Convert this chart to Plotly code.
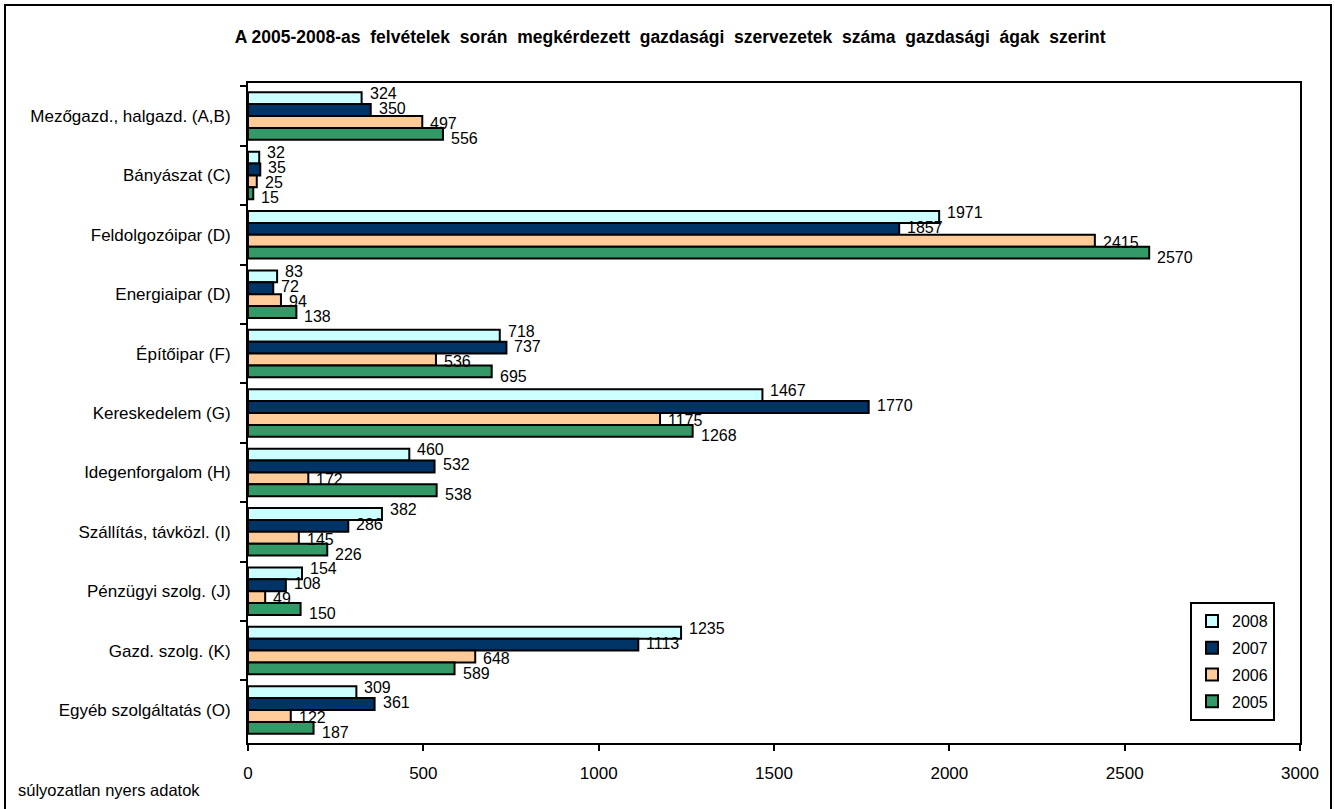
import plotly.graph_objects as go

categories = [
    "Mezőgazd., halgazd. (A,B)",
    "Bányászat (C)",
    "Feldolgozóipar (D)",
    "Energiaipar (D)",
    "Építőipar (F)",
    "Kereskedelem (G)",
    "Idegenforgalom (H)",
    "Szállítás, távközl. (I)",
    "Pénzügyi szolg. (J)",
    "Gazd. szolg. (K)",
    "Egyéb szolgáltatás (O)",
]
series_names = ["2008", "2007", "2006", "2005"]
v2008 = [324, 32, 1971, 83, 718, 1467, 460, 382, 154, 1235, 309]
v2007 = [350, 35, 1857, 72, 737, 1770, 532, 286, 108, 1113, 361]
v2006 = [497, 25, 2415, 94, 536, 1175, 172, 145, 49, 648, 122]
v2005 = [556, 15, 2570, 138, 695, 1268, 538, 226, 150, 589, 187]
x_ticks = [0, 500, 1000, 1500, 2000, 2500, 3000]

colors = ["#CCFFFF", "#003366", "#FFCC99", "#339966"]
FONT = "Arial, Liberation Sans, sans-serif"

W, H = 1335, 809
ml, mr, mt, mb = 248, 35, 83, 66
pw, ph = W - ml - mr, H - mt - mb

def px_x(p):
    return (p - ml) / pw

def px_y(p):
    return (H - mb - p) / ph

all_series = [v2008, v2007, v2006, v2005]
n_ser = len(all_series)
label_step = 15  # vertical spacing of value labels inside a category (px)

fig = go.Figure()
for name, vals, col in zip(series_names, all_series, colors):
    fig.add_trace(go.Bar(
        y=categories, x=vals, name=name, orientation="h",
        marker=dict(color=col, line=dict(color="black", width=2)),
        hoverinfo="x+y+name", legendgroup=name,
    ))

# value labels, anchored to each bar's end via the data axes, spread vertically
for si, vals in enumerate(all_series):
    yshift = -(si - (n_ser - 1) / 2) * label_step
    for cat, v in zip(categories, vals):
        fig.add_annotation(
            x=v, y=cat, xref="x", yref="y", text=str(v), showarrow=False,
            xanchor="left", yanchor="middle", xshift=6, yshift=yshift,
            font=dict(family=FONT, size=16, color="black"),
        )

fig.update_layout(
    width=W, height=H,
    margin=dict(l=ml, r=mr, t=mt, b=mb, autoexpand=False),
    paper_bgcolor="white", plot_bgcolor="white",
    barmode="group", bargap=0.2, bargroupgap=0,
    font=dict(family=FONT, size=16, color="black"),
    title=dict(
        text="<b>A 2005-2008-as  felvételek  során  megkérdezett  gazdasági  szervezetek  száma  gazdasági  ágak  szerint</b>",
        x=0.502, xanchor="center", y=1 - 37 / H, yanchor="middle",
        font=dict(family=FONT, size=17.5, color="black"),
    ),
    legend=dict(
        x=px_x(1190), y=px_y(602), xanchor="left", yanchor="top",
        bordercolor="black", borderwidth=2, bgcolor="white",
        font=dict(family=FONT, size=16), traceorder="grouped",
        tracegroupgap=3, itemwidth=30,
    ),
    showlegend=True,
)
fig.update_xaxes(
    range=[0, 3000], tickvals=x_ticks, ticktext=[str(t) for t in x_ticks],
    showline=True, linecolor="black", linewidth=2, mirror=True,
    ticks="outside", ticklen=6, tickwidth=2, tickcolor="black",
    showgrid=False, zeroline=False, ticklabelstandoff=8,
    tickfont=dict(family=FONT, size=17),
)
fig.update_yaxes(
    autorange="reversed", categoryorder="array", categoryarray=categories,
    showline=True, linecolor="black", linewidth=2, mirror=True,
    ticks="outside", ticklen=6, tickwidth=2, tickcolor="black",
    tickson="boundaries", showgrid=False, ticklabelstandoff=12,
    tickfont=dict(family=FONT, size=17),
)
fig.add_shape(
    type="rect", xref="paper", yref="paper",
    x0=px_x(5), x1=px_x(1331), y0=px_y(812), y1=px_y(5),
    line=dict(color="black", width=2), fillcolor="rgba(0,0,0,0)", layer="below",
)
fig.add_annotation(
    text="súlyozatlan nyers adatok", xref="paper", yref="paper",
    x=px_x(16), y=px_y(790), xanchor="left", yanchor="middle",
    showarrow=False, font=dict(family=FONT, size=16.5, color="black"),
)
fig.write_html(
    "out.html",
    config={"displayModeBar": False},
    post_script="document.body.style.margin='0px';document.body.style.overflow='hidden';",
)
